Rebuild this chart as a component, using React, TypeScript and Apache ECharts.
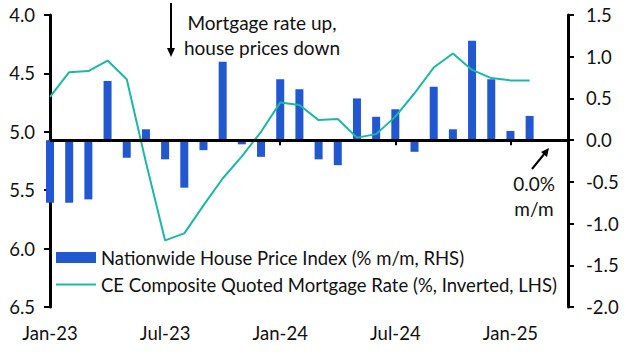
import React, { useEffect, useRef } from "react";
import * as echarts from "echarts";

const months = [
  "Jan-23", "Feb-23", "Mar-23", "Apr-23", "May-23", "Jun-23", "Jul-23", "Aug-23", "Sep-23", "Oct-23", "Nov-23", "Dec-23",
  "Jan-24", "Feb-24", "Mar-24", "Apr-24", "May-24", "Jun-24", "Jul-24", "Aug-24", "Sep-24", "Oct-24", "Nov-24", "Dec-24",
  "Jan-25", "Feb-25", "Mar-25", "Apr-25",
];

// Nationwide House Price Index (% m/m, RHS)
const housePrices: (number | null)[] = [
  -0.75, -0.75, -0.71, 0.71, -0.21, 0.13, -0.23, -0.57, -0.12, 0.94, -0.05, -0.2,
  0.73, 0.61, -0.23, -0.3, 0.5, 0.28, 0.37, -0.14, 0.64, 0.13, 1.19, 0.73,
  0.11, 0.29, null, null,
];

// CE Composite Quoted Mortgage Rate (%, Inverted, LHS)
const mortgageRate: (number | null)[] = [
  4.7, 4.49, 4.48, 4.39, 4.55, 5.26, 5.93, 5.87, 5.63, 5.4, 5.21, 5.0,
  4.75, 4.77, 4.9, 4.89, 5.05, 5.02, 4.87, 4.67, 4.45, 4.33, 4.47, 4.54,
  4.56, 4.56, null, null,
];

const FONT = "Lato";
const BLUE = "#2158CF";
const TEAL = "#1BB9A5";
const FS = 18.5;

export default function App() {
  const ref = useRef<HTMLDivElement>(null);
  useEffect(() => {
    if (!ref.current) return;
    const chart = echarts.init(ref.current, undefined, { renderer: "svg" });
    chart.setOption({
      animation: false,
      textStyle: { fontFamily: FONT },
      grid: { left: 50, right: 62, top: 15, bottom: 48 },
      legend: {
        orient: "vertical",
        left: 55,
        top: 248,
        padding: 0,
        itemWidth: 40,
        itemHeight: 11,
        itemGap: 8,
        textStyle: { fontFamily: FONT, fontSize: FS, color: "#111", lineHeight: 19 },
        data: [
          { name: "Nationwide House Price Index (% m/m, RHS)", icon: "rect" },
          { name: "CE Composite Quoted Mortgage Rate (%, Inverted, LHS)", itemStyle: { opacity: 0 } },
        ],
      },
      xAxis: {
        type: "category",
        data: months,
        boundaryGap: false,
        axisLine: { lineStyle: { color: "#000", width: 3 } },
        axisTick: { interval: 5, length: 5, lineStyle: { color: "#000", width: 2 } },
        axisLabel: { interval: 5, fontFamily: FONT, fontSize: FS, color: "#111", margin: 16 },
        splitLine: { show: false },
      },
      yAxis: [
        {
          type: "value",
          inverse: true,
          min: 4,
          max: 6.5,
          interval: 0.5,
          axisLine: { show: true, lineStyle: { color: "#000", width: 3 } },
          axisTick: { show: true, length: 6, lineStyle: { color: "#000", width: 2 } },
          axisLabel: { fontFamily: FONT, fontSize: FS, color: "#111", margin: 15, formatter: (v: number) => v.toFixed(1) },
          splitLine: { show: false },
        },
        {
          type: "value",
          min: -2,
          max: 1.5,
          interval: 0.5,
          axisLine: { show: true, lineStyle: { color: "#000", width: 3 } },
          axisTick: { show: true, length: 6, lineStyle: { color: "#000", width: 2 } },
          axisLabel: { fontFamily: FONT, fontSize: FS, color: "#111", margin: 18, formatter: (v: number) => v.toFixed(1) },
          splitLine: { show: false },
        },
      ],
      series: [
        {
          name: "Nationwide House Price Index (% m/m, RHS)",
          type: "bar",
          yAxisIndex: 1,
          data: housePrices,
          barWidth: 8,
          itemStyle: { color: BLUE },
          markLine: {
            silent: true,
            symbol: "none",
            label: { show: false },
            lineStyle: { color: "#000", width: 3, type: "solid" },
            data: [{ yAxis: 0 }],
          },
        },
        {
          name: "CE Composite Quoted Mortgage Rate (%, Inverted, LHS)",
          type: "line",
          yAxisIndex: 0,
          data: mortgageRate,
          symbol: "none",
          lineStyle: { color: TEAL, width: 2 },
          itemStyle: { color: TEAL },
        },
      ],
      graphic: [
        { type: "line", shape: { x1: 171, y1: 3, x2: 171, y2: 50 }, style: { stroke: "#000", lineWidth: 2 } },
        { type: "polygon", shape: { points: [[167, 48], [175, 48], [171, 57]] }, style: { fill: "#000" } },
        {
          type: "text",
          x: 262,
          y: 22,
          style: { text: "Mortgage rate up,", font: `19px ${FONT}`, fill: "#111", align: "center", verticalAlign: "middle" },
        },
        {
          type: "text",
          x: 262,
          y: 47,
          style: { text: "house prices down", font: `19px ${FONT}`, fill: "#111", align: "center", verticalAlign: "middle" },
        },
        { type: "line", shape: { x1: 532, y1: 169, x2: 545, y2: 153 }, style: { stroke: "#000", lineWidth: 2 } },
        { type: "polygon", shape: { points: [[549, 148], [541, 152], [547, 157]] }, style: { fill: "#000" } },
        {
          type: "text",
          x: 534,
          y: 183,
          style: { text: "0.0%", font: `19px ${FONT}`, fill: "#111", align: "center", verticalAlign: "middle" },
        },
        {
          type: "text",
          x: 534,
          y: 208,
          style: { text: "m/m", font: `19px ${FONT}`, fill: "#111", align: "center", verticalAlign: "middle" },
        },
      ],
    });
    return () => chart.dispose();
  }, []);
  return <div ref={ref} style={{ width: 630, height: 355, position: "absolute", left: 0, top: 0 }} />;
}
